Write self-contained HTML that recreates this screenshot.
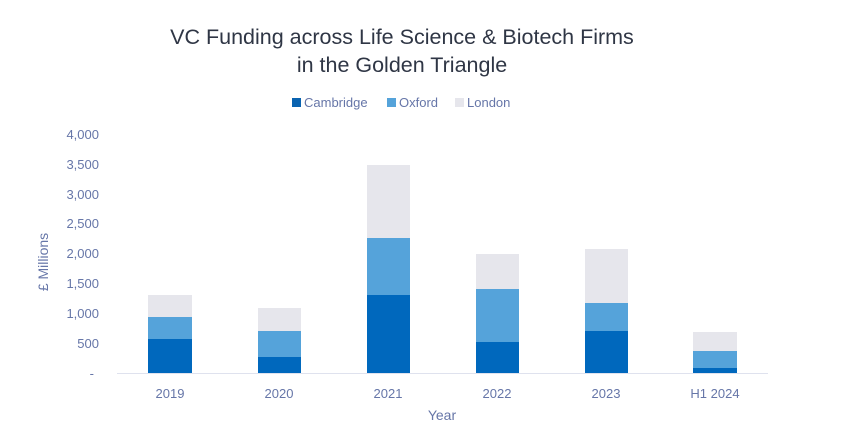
<!DOCTYPE html>
<html><head><meta charset="utf-8"><style>
html,body{margin:0;padding:0;background:#fff;}
svg{display:block;font-family:"Liberation Sans",sans-serif;}
</style></head><body>
<svg width="847" height="429" viewBox="0 0 847 429">
<text x="402" y="44" text-anchor="middle" font-size="21.5" fill="#2f3645">VC Funding across Life Science &amp; Biotech Firms</text>
<text x="402" y="72" text-anchor="middle" font-size="21.5" fill="#2f3645">in the Golden Triangle</text>
<rect x="292" y="98" width="9" height="9" fill="#0a63b0"/>
<text x="304" y="107" font-size="13" fill="#6676a8">Cambridge</text>
<rect x="387" y="98" width="9" height="9" fill="#55a3da"/>
<text x="399" y="107" font-size="13" fill="#6676a8">Oxford</text>
<rect x="455" y="98" width="9" height="9" fill="#e6e6ec"/>
<text x="467" y="107" font-size="13" fill="#6676a8">London</text>
<g font-size="13" fill="#6676a8" text-anchor="end">
<text x="99" y="139">4,000</text>
<text x="99" y="169">3,500</text>
<text x="99" y="199">3,000</text>
<text x="99" y="258">2,000</text>
<text x="99" y="228">2,500</text>
<text x="99" y="288">1,500</text>
<text x="99" y="318">1,000</text>
<text x="99" y="348">500</text>
<text x="94" y="378">-</text>
</g>
<text transform="translate(48,262) rotate(-90)" text-anchor="middle" font-size="14" fill="#6676a8">£ Millions</text>
<g>
<rect x="148" y="295" width="44" height="22" fill="#e6e6ec"/><rect x="148" y="317" width="44" height="22" fill="#55a3da"/><rect x="148" y="339" width="44" height="34" fill="#0068bd"/>
<rect x="258" y="308" width="43" height="23" fill="#e6e6ec"/><rect x="258" y="331" width="43" height="26" fill="#55a3da"/><rect x="258" y="357" width="43" height="16" fill="#0068bd"/>
<rect x="367" y="165" width="43" height="73" fill="#e6e6ec"/><rect x="367" y="238" width="43" height="57" fill="#55a3da"/><rect x="367" y="295" width="43" height="78" fill="#0068bd"/>
<rect x="476" y="254" width="43" height="35" fill="#e6e6ec"/><rect x="476" y="289" width="43" height="53" fill="#55a3da"/><rect x="476" y="342" width="43" height="31" fill="#0068bd"/>
<rect x="585" y="249" width="43" height="54" fill="#e6e6ec"/><rect x="585" y="303" width="43" height="28" fill="#55a3da"/><rect x="585" y="331" width="43" height="42" fill="#0068bd"/>
<rect x="693" y="332" width="44" height="19" fill="#e6e6ec"/><rect x="693" y="351" width="44" height="17" fill="#55a3da"/><rect x="693" y="368" width="44" height="5" fill="#0068bd"/>
</g>
<line x1="117" y1="373.5" x2="768" y2="373.5" stroke="#dfe2ee" stroke-width="1"/>
<g font-size="13" fill="#6676a8" text-anchor="middle">
<text x="170" y="398">2019</text>
<text x="279" y="398">2020</text>
<text x="388" y="398">2021</text>
<text x="497" y="398">2022</text>
<text x="606" y="398">2023</text>
<text x="715" y="398">H1 2024</text>
</g>
<text x="442" y="420" text-anchor="middle" font-size="14" fill="#6676a8">Year</text>
</svg>
</body></html>
